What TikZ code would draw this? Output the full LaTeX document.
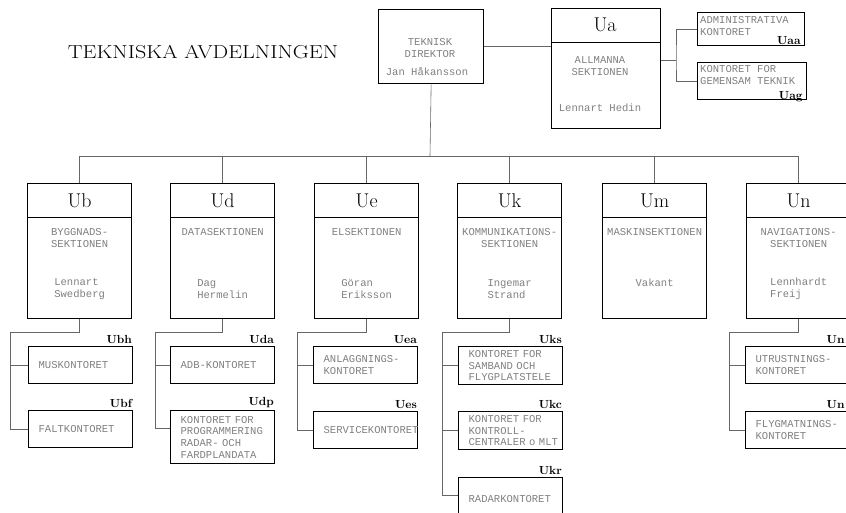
\documentclass[tikz,border=0pt]{standalone}
\usepackage{fontspec}
\newfontfamily\typfont{Liberation Mono}
\usetikzlibrary{positioning,calc}

\tikzset{
  box/.style={draw, line width=1.1pt, inner sep=0pt, anchor=north west},
  sect/.style={box, minimum width=31.2mm, minimum height=40.5mm},
  office/.style={box, minimum width=31.2mm, minimum height=11.1mm, text width=25.2mm,
    inner xsep=3mm, align=left, text=black!50, font=\typfont\fontsize{9}{10}\selectfont},
  typed/.style={inner sep=0pt, align=center, text=black!50, font=\typfont\fontsize{9}{10}\selectfont},
  head/.style={font=\fontsize{17}{19}\selectfont},
  code/.style={inner sep=1pt, anchor=south east, font=\bfseries\fontsize{10}{12}\selectfont},
  wire/.style={draw=black!60, line width=0.5pt},
}

\begin{document}
\begin{tikzpicture}[x=0.3mm, y=-0.3mm]
    \useasboundingbox (0,0) rectangle (846,512);
    \clip (0,0) rectangle (846,512);

    \node[font=\fontsize{16}{18}\selectfont] (title) at (203,52) {\scalebox{1.18}[1]{TEKNISKA AVDELNINGEN}};

    % Director
    \node[box, minimum width=31.5mm, minimum height=22.2mm] (dir) at (378,9) {};
    \node[typed] (dirtitle) at (430,48) {TEKNISK\\DIREKTOR};
    \node[typed] (dirname) at (427,72) {Jan Håkansson};

    % Ua
    \node[box, minimum width=32.7mm, minimum height=36mm] (ua) at (551,8) {};
    \draw[line width=0.5pt] ([yshift=-10.2mm]ua.north west) -- ([yshift=-10.2mm]ua.north east);
    \node[head] (uahead) at (605,25) {Ua};
    \node[typed] (uasect) at (600,66) {ALLMANNA\\SEKTIONEN};
    \node[typed] (uaname) at (600,108) {Lennart Hedin};
    \draw[wire] (dir.east) -- (dir.east -| ua.west);

    \node[box, minimum width=32.1mm, minimum height=9.9mm] (uaa) at (697,12) {};
    \node[typed, anchor=north west, align=left] (uaatext) at ([xshift=0.9mm,yshift=-1.3mm]uaa.north west) {ADMINISTRATIVA\\KONTORET};
    \node[code] (uaacode) at ([xshift=-1mm]uaa.south east) {Uaa};
    \node[box, minimum width=32.7mm, minimum height=11.1mm] (uag) at (697,62) {};
    \node[typed, anchor=north west, align=left] (uagtext) at ([xshift=0.9mm,yshift=-1mm]uag.north west) {KONTORET FOR\\GEMENSAM TEKNIK};
    \node[code] (uagcode) at ([xshift=-1mm,yshift=-1mm]uag.south east) {Uag};
    \coordinate (ajx) at (676,60);
    \draw[wire] (uaa.west) -| (ajx) |- (uag.west);
    \draw[wire] (ajx) -- (ajx -| ua.east);

    % Sections
    \node[sect] (ub) at (27,183) {};
    \node[sect] (ud) at (170,183) {};
    \node[sect] (ue) at (314,183) {};
    \node[sect] (uk) at (457,183) {};
    \node[sect] (um) at (602,183) {};
    \node[sect] (un) at (746,183) {};
    \foreach \s in {ub,ud,ue,uk,um,un}
        \draw[line width=0.5pt] ([yshift=-10.2mm]\s.north west) -- ([yshift=-10.2mm]\s.north east);

    \node[head] (ubhead) at ([yshift=-5.3mm]ub.north) {Ub};
    \node[typed, anchor=north] (ubsect) at ([yshift=-13.5mm]ub.north) {BYGGNADS-\\SEKTIONEN};
    \node[typed, align=left] (ubname) at ([yshift=-31.8mm]ub.north) {Lennart\\Swedberg};

    \node[head] (udhead) at ([yshift=-5.3mm]ud.north) {Ud};
    \node[typed, anchor=north] (udsect) at ([yshift=-13.5mm]ud.north) {DATASEKTIONEN};
    \node[typed, align=left] (udname) at ([yshift=-31.8mm]ud.north) {Dag\\Hermelin};

    \node[head] (uehead) at ([yshift=-5.3mm]ue.north) {Ue};
    \node[typed, anchor=north] (uesect) at ([yshift=-13.5mm]ue.north) {ELSEKTIONEN};
    \node[typed, align=left] (uename) at ([yshift=-31.8mm]ue.north) {Göran\\Eriksson};

    \node[head] (ukhead) at ([yshift=-5.3mm]uk.north) {Uk};
    \node[typed, anchor=north] (uksect) at ([yshift=-13.5mm]uk.north) {KOMMUNIKATIONS-\\SEKTIONEN};
    \node[typed, align=left] (ukname) at ([yshift=-31.8mm]uk.north) {Ingemar\\Strand};

    \node[head] (umhead) at ([yshift=-5.3mm]um.north) {Um};
    \node[typed, anchor=north] (umsect) at ([yshift=-13.5mm]um.north) {MASKINSEKTIONEN};
    \node[typed] (umname) at ([yshift=-30mm]um.north) {Vakant};

    \node[head] (unhead) at ([yshift=-5.3mm]un.north) {Un};
    \node[typed, anchor=north] (unsect) at ([yshift=-13.5mm]un.north) {NAVIGATIONS-\\SEKTIONEN};
    \node[typed, align=left] (unname) at ([yshift=-31.8mm]un.north) {Lennhardt\\Freij};

    % Bus from the director
    \coordinate (bus) at (430,156);
    \draw[wire] (dir.south) -- (bus);
    \draw[wire] (ub.north) -- (ub.north |- bus) -- (un.north |- bus) -- (un.north);
    \foreach \s in {ud,ue,uk,um}
        \draw[wire] (\s.north) -- (\s.north |- bus);

    % Offices
    \node[office] (ubh) at (28,346) {MUSKONTORET};
    \node[office] (ubf) at (28,410) {FALTKONTORET};
    \node[office] (uda) at (170,346) {ADB-KONTORET};
    \node[office, minimum height=15.9mm] (udp) at (170,410) {KONTORET FOR\\PROGRAMMERING\\RADAR- OCH\\FARDPLANDATA};
    \node[office] (uea) at (313,346) {ANLAGGNINGS-\\KONTORET};
    \node[office] (ues) at (313,411) {SERVICEKONTORET};
    \node[office, minimum height=11.4mm] (uks) at (458,346) {KONTORET FOR\\SAMBAND OCH\\FLYGPLATSTELE};
    \node[office, minimum height=11.4mm] (ukc) at (458,411) {KONTORET FOR\\KONTROLL-\\CENTRALER~o~MLT};
    \node[office, minimum height=12.6mm] (ukr) at (458,477) {RADARKONTORET};
    \node[office] (unu) at (745,346) {UTRUSTNINGS-\\KONTORET};
    \node[office] (unf) at (745,411) {FLYGMATNINGS-\\KONTORET};

    \node[code] (ubhcode) at ([yshift=1pt]ubh.north east) {Ubh};
    \node[code] (ubfcode) at ([yshift=1pt]ubf.north east) {Ubf};
    \node[code] (udacode) at ([yshift=1pt]uda.north east) {Uda};
    \node[code] (udpcode) at ([yshift=1pt]udp.north east) {Udp};
    \node[code] (ueacode) at ([yshift=1pt]uea.north east) {Uea};
    \node[code] (uescode) at ([yshift=1pt]ues.north east) {Ues};
    \node[code] (ukscode) at ([yshift=1pt]uks.north east) {Uks};
    \node[code] (ukccode) at ([yshift=1pt]ukc.north east) {Ukc};
    \node[code] (ukrcode) at ([yshift=1pt]ukr.north east) {Ukr};
    \node[code] (unucode) at ([yshift=1pt]unu.north -| 846,0) {Un};
    \node[code] (unfcode) at ([yshift=1pt]unf.north -| 846,0) {Un};

    % Branches
    \coordinate (ubbus) at (10,332);
    \draw[wire] (ub.south) |- (ubbus) |- (ubf.west);
    \draw[wire] (ubbus |- ubh.west) -- (ubh.west);
    \coordinate (udbus) at (155,332);
    \draw[wire] (ud.south) |- (udbus) -- (udbus |- 0,428) -- (udp.west |- 0,428);
    \draw[wire] (udbus |- uda.west) -- (uda.west);
    \coordinate (uebus) at (297,332);
    \draw[wire] (ue.south) |- (uebus) |- (ues.west);
    \draw[wire] (uebus |- uea.west) -- (uea.west);
    \coordinate (ukbus) at (442,332);
    \draw[wire] (uk.south) |- (ukbus) -- (ukbus |- 0,495) -- (ukr.west |- 0,495);
    \draw[wire] (ukbus |- uks.west) -- (uks.west);
    \draw[wire] (ukbus |- ukc.west) -- (ukc.west);
    \coordinate (unbus) at (729,332);
    \draw[wire] (un.south) |- (unbus) |- (unf.west);
    \draw[wire] (unbus |- unu.west) -- (unu.west);

\end{tikzpicture}
\end{document}
